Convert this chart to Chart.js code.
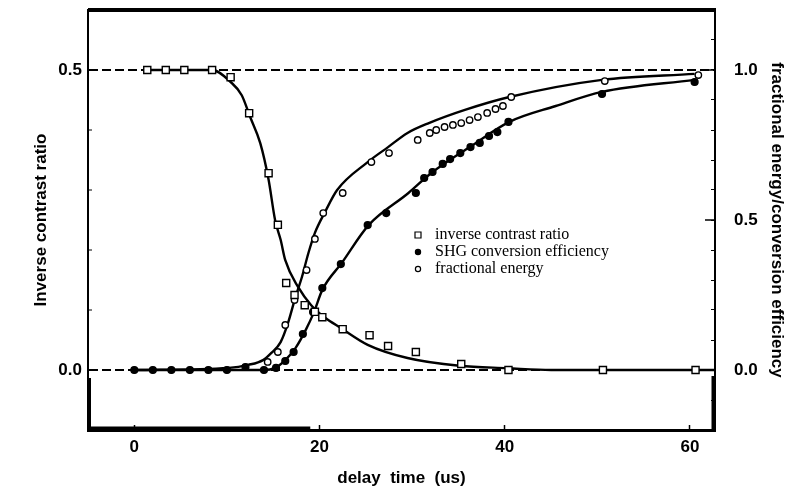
<!DOCTYPE html>
<html>
<head>
<meta charset="utf-8">
<script src="https://cdn.jsdelivr.net/npm/chart.js@4.4.1/dist/chart.umd.min.js"></script>
<style>
  html, body { margin: 0; padding: 0; background: #fff; }
</style>
</head>
<body>
<canvas id="delay-chart" width="797" height="489"></canvas>
<script>
// measured points
const contrastDelay = [1.4, 3.4, 5.4, 8.4, 10.4, 12.4, 14.5, 15.5, 16.4, 17.3, 18.4, 19.5, 20.3, 22.5, 25.4, 27.4, 30.4, 35.3, 40.4, 50.6, 60.6]
const contrastRatio = [0.5, 0.5, 0.5, 0.5, 0.488, 0.428, 0.328, 0.242, 0.145, 0.125, 0.108, 0.097, 0.088, 0.068, 0.058, 0.04, 0.03, 0.01, 0, 0, 0]

const shgDelay = [0, 2, 4, 6, 8, 10, 12, 14, 15.3, 16.3, 17.2, 18.2, 19.3, 20.3, 22.3, 25.2, 27.2, 30.4, 31.3, 32.2, 33.3, 34.1, 35.2, 36.3, 37.3, 38.3, 39.2, 40.4, 50.5, 60.5]
const shgEfficiency = [0, 0, 0, 0, 0, 0, 0.01, 0, 0.007, 0.03, 0.06, 0.12, 0.193, 0.273, 0.353, 0.483, 0.523, 0.59, 0.64, 0.66, 0.687, 0.703, 0.723, 0.743, 0.757, 0.78, 0.793, 0.827, 0.92, 0.96]

const energyDelay = [14.4, 15.5, 16.3, 17.3, 18.6, 19.5, 20.4, 22.5, 25.6, 27.5, 30.6, 31.9, 32.6, 33.5, 34.4, 35.3, 36.2, 37.1, 38.1, 39.0, 39.8, 40.7, 50.8, 60.9]
const energyFraction = [0.027, 0.06, 0.15, 0.233, 0.333, 0.437, 0.523, 0.59, 0.693, 0.723, 0.767, 0.79, 0.8, 0.81, 0.817, 0.823, 0.833, 0.843, 0.857, 0.87, 0.88, 0.91, 0.963, 0.983]

// fitted curves
const contrastFitDelay = [1, 8.4, 10.4, 11.6, 12.5, 13.6, 14.5, 15.2, 15.8, 16.3, 17.7, 19.1, 20.6, 22.3, 25.2, 29.5, 35.1, 40.3, 45, 62.7]
const contrastFit = [0.5, 0.5, 0.48, 0.458, 0.422, 0.378, 0.317, 0.25, 0.217, 0.183, 0.138, 0.108, 0.087, 0.07, 0.042, 0.02, 0.007, 0.003, 0, 0]

const shgFitDelay = [0, 14, 15.2, 16.3, 17.4, 18.5, 19.4, 20.3, 22.4, 25.3, 29.6, 32, 36.3, 40.5, 45.5, 50.5, 60.5]
const shgFit = [0, 0, 0.007, 0.033, 0.073, 0.133, 0.193, 0.267, 0.357, 0.483, 0.59, 0.655, 0.745, 0.827, 0.88, 0.927, 0.967]

const energyFitDelay = [0, 10.2, 12.3, 13.9, 14.8, 15.8, 16.6, 17.4, 18.1, 18.8, 19.5, 20.6, 21.9, 25.2, 27.4, 29.5, 31.8, 35.7, 40.5, 50.5, 60.5]
const energyFit = [0, 0.007, 0.017, 0.033, 0.057, 0.093, 0.157, 0.243, 0.31, 0.39, 0.457, 0.527, 0.6, 0.693, 0.743, 0.79, 0.823, 0.867, 0.91, 0.967, 0.987]

// axes
const xTicks = [0, 20, 40, 60]
const leftTicks = [-0.1, 0, 0.1, 0.2, 0.3, 0.4, 0.5, 0.6]
const leftLabelled = [0, 0.5]
const rightTicks = [-0.2, -0.1, 0, 0.1, 0.2, 0.3, 0.4, 0.5, 0.6, 0.7, 0.8, 0.9, 1.0, 1.1, 1.2]
const rightLabelled = [0, 0.5, 1.0]

const legendLabels = ['inverse contrast ratio', 'SHG conversion efficiency', 'fractional energy']

const bold17 = { family: "'Liberation Sans', Arial, sans-serif", size: 17, weight: 'bold' }

Chart.defaults.color = '#000'
Chart.defaults.font.family = "'Liberation Sans', Arial, sans-serif"

function toPoints(xs, ys) {
  return xs.map((x, i) => ({ x, y: ys[i] }))
}

function isOneOf(list, v) {
  return list.some(l => Math.abs(l - v) < 1e-6)
}

function setTicks(values) {
  return scale => { scale.ticks = values.map(value => ({ value })) }
}

// fixed box sizes, and no extra room for half-labels at the ends
function fixWidth(w) {
  return s => { s.width = w; s.paddingTop = 0; s.paddingBottom = 0 }
}
function fixHeight(h) {
  return s => { s.height = h; s.paddingLeft = 0; s.paddingRight = 0 }
}

// heavy top rule, the thicker bits of the lower frame, longer major ticks on the right
const frame = {
  id: 'frame',
  afterDraw(chart) {
    const { ctx, chartArea, scales } = chart
    const { left, right, top, bottom } = chartArea
    ctx.save()
    ctx.strokeStyle = '#000'
    ctx.lineCap = 'butt'

    ctx.lineWidth = 4
    ctx.beginPath()
    ctx.moveTo(left, top)
    ctx.lineTo(right + 1, top)
    ctx.stroke()

    const zeroY = scales.y.getPixelForValue(0)
    ctx.beginPath()
    ctx.moveTo(left + 1, zeroY + 8)
    ctx.lineTo(left + 1, bottom)
    ctx.stroke()

    ctx.lineWidth = 3
    ctx.beginPath()
    ctx.moveTo(left, bottom - 2)
    ctx.lineTo(scales.x.getPixelForValue(19), bottom - 2)
    ctx.stroke()

    ctx.beginPath()
    ctx.moveTo(right - 2, scales.y2.getPixelForValue(-0.02))
    ctx.lineTo(right - 2, bottom)
    ctx.stroke()

    ctx.lineWidth = 1.5
    rightLabelled.forEach(v => {
      const y = scales.y2.getPixelForValue(v)
      ctx.beginPath()
      ctx.moveTo(right, y)
      ctx.lineTo(right - 10, y)
      ctx.stroke()
    })
    ctx.restore()
  }
}

// small legend inside the plot, serif like the figure captions
const insetLegend = {
  id: 'insetLegend',
  afterDraw(chart) {
    const { ctx } = chart
    const x = 418, y0 = 235, gap = 17
    ctx.save()
    ctx.font = "16px 'Liberation Serif', 'Times New Roman', serif"
    ctx.textBaseline = 'middle'
    legendLabels.forEach((label, i) => {
      const ds = chart.data.datasets[i]
      const y = y0 + i * gap
      ctx.strokeStyle = '#000'
      ctx.lineWidth = 1.2
      ctx.beginPath()
      if (ds.pointStyle === 'rect') {
        ctx.rect(x - 3, y - 3, 6, 6)
        ctx.stroke()
      } else {
        ctx.arc(x, y, 2.6, 0, Math.PI * 2)
        ctx.fillStyle = ds.pointBackgroundColor
        ctx.fill()
        ctx.stroke()
      }
      ctx.fillStyle = '#000'
      ctx.fillText(label, x + 17, y)
    })
    ctx.restore()
  }
}

function pointSet(label, data, axis, style, fill, radius) {
  return {
    label,
    data,
    yAxisID: axis,
    showLine: false,
    pointStyle: style,
    pointRadius: radius,
    pointBorderWidth: 1.4,
    pointBorderColor: '#000',
    pointBackgroundColor: fill,
    order: 0,
  }
}

function fitLine(data, axis) {
  return {
    data,
    yAxisID: axis,
    showLine: true,
    pointRadius: 0,
    borderColor: '#000',
    borderWidth: 2.4,
    cubicInterpolationMode: 'monotone',
    order: 1,
  }
}

const ctx = document.getElementById('delay-chart')

new Chart(ctx, {
  type: 'scatter',
  data: {
    datasets: [
      pointSet('inverse contrast ratio', toPoints(contrastDelay, contrastRatio), 'y', 'rect', '#fff', 5),
      pointSet('SHG conversion efficiency', toPoints(shgDelay, shgEfficiency), 'y2', 'circle', '#000', 3.4),
      pointSet('fractional energy', toPoints(energyDelay, energyFraction), 'y2', 'circle', '#fff', 3.2),
      fitLine(toPoints(contrastFitDelay, contrastFit), 'y'),
      fitLine(toPoints(shgFitDelay, shgFit), 'y2'),
      fitLine(toPoints(energyFitDelay, energyFit), 'y2'),
    ]
  },
  options: {
    responsive: false,
    animation: false,
    layout: { padding: { top: 10, left: 0, right: 0, bottom: 0 } },
    plugins: {
      legend: { display: false },
      tooltip: { enabled: false },
    },
    scales: {
      x: {
        type: 'linear',
        min: -5,
        max: 62.7,
        afterBuildTicks: setTicks(xTicks),
        afterFit: fixHeight(59),
        border: { color: '#000', width: 3 },
        grid: { drawOnChartArea: false, tickLength: -5, tickColor: '#000', tickWidth: 1.5 },
        ticks: { font: bold17, padding: 12, maxRotation: 0, callback: v => String(v) },
        title: { display: true, text: 'delay  time  (us)', font: bold17, padding: { top: 6, bottom: 0 } },
      },
      y: {
        position: 'left',
        min: -0.1,
        max: 0.6,
        afterBuildTicks: setTicks(leftTicks),
        afterFit: fixWidth(88),
        border: { color: '#000', width: 2, dash: [9, 4] },
        grid: {
          color: c => isOneOf(leftLabelled, c.tick.value) ? '#000' : 'rgba(0,0,0,0)',
          lineWidth: 2,
          tickLength: -4,
          tickColor: '#000',
          tickWidth: 1,
        },
        ticks: { font: bold17, padding: 10, callback: v => isOneOf(leftLabelled, v) ? v.toFixed(1) : '' },
        title: { display: true, text: 'Inverse contrast ratio', font: bold17, padding: { top: 31, bottom: 0 } },
      },
      y2: {
        position: 'right',
        min: -0.2,
        max: 1.2,
        afterBuildTicks: setTicks(rightTicks),
        afterFit: fixWidth(82),
        border: { color: '#000', width: 2 },
        grid: { drawOnChartArea: false, tickLength: -4, tickColor: '#000', tickWidth: 1 },
        ticks: { font: bold17, padding: 23, callback: v => isOneOf(rightLabelled, v) ? v.toFixed(1) : '' },
        title: { display: true, text: 'fractional energy/conversion efficiency', font: bold17, padding: { top: 10, bottom: 0 } },
      },
    }
  },
  plugins: [frame, insetLegend]
})
</script>
</body>
</html>
